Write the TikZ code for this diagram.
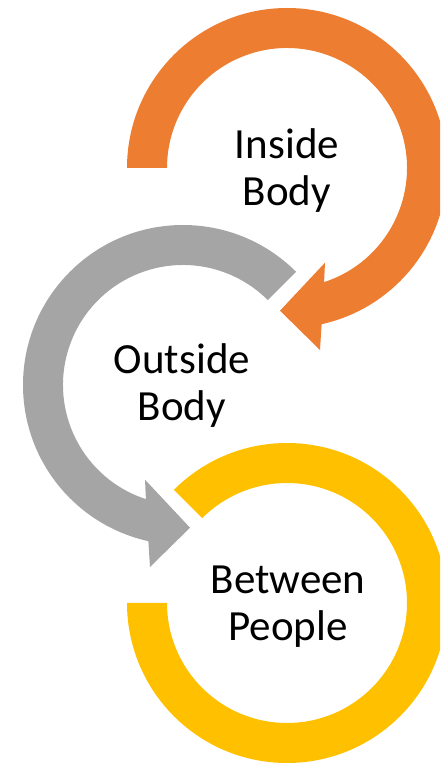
\documentclass[tikz,border=0pt]{standalone}
\usepackage{fontspec}
\setmainfont{Carlito}
\usepackage{tikz}
\usetikzlibrary{calc}

\definecolor{ringorange}{HTML}{ED7D31}
\definecolor{ringgray}{HTML}{A5A5A5}
\definecolor{ringyellow}{HTML}{FFC000}

\begin{document}
\begin{tikzpicture}[
  x=1pt, y=1pt,
  ring/.style={fill=#1, draw=none},
  ring/.default={ringgray},
  stagetext/.style={font=\fontsize{43}{47}\selectfont, align=center, inner sep=0pt}
]
  \useasboundingbox (0,0) rectangle (440,764);
  \clip (0,0) rectangle (440,764);
  % centres of the three rings
  \coordinate (c1) at (287,596);
  \coordinate (c2) at (183,379);
  \coordinate (c3) at (287,161);
  % inside body arrow
  \begin{scope}[shift={(c1)}]
    \fill[ring=ringorange] (180:160) arc[start angle=180, end angle=-77.5, radius=160]
      -- (33,-182) -- (-7,-142.7) -- (38,-94.7)
      -- (-72:120) arc[start angle=-72, end angle=180, radius=120] -- cycle;
  \end{scope}
  % outside body arrow
  \begin{scope}[shift={(c2)}]
    \fill[ring=ringgray] (45:160) arc[start angle=45, end angle=257.5, radius=160]
      -- (-33,-182) -- (7,-142.7) -- (-38,-94.7)
      -- (252:120) arc[start angle=252, end angle=45, radius=120] -- cycle;
  \end{scope}
  % between people ring
  \begin{scope}[shift={(c3)}]
    \fill[ring=ringyellow] (135:160) arc[start angle=135, end angle=-180, radius=160]
      -- (180:120) arc[start angle=-180, end angle=135, radius=120] -- cycle;
  \end{scope}
  % labels
  \node[stagetext] (inside) at ($(c1)+(0,-3)$) {Inside\\Body};
  \node[stagetext] (outside) at ($(c2)+(-1,-1)$) {Outside\\Body};
  \node[stagetext] (between) at ($(c3)+(1,-4)$) {Between\\People};
\end{tikzpicture}
\end{document}
